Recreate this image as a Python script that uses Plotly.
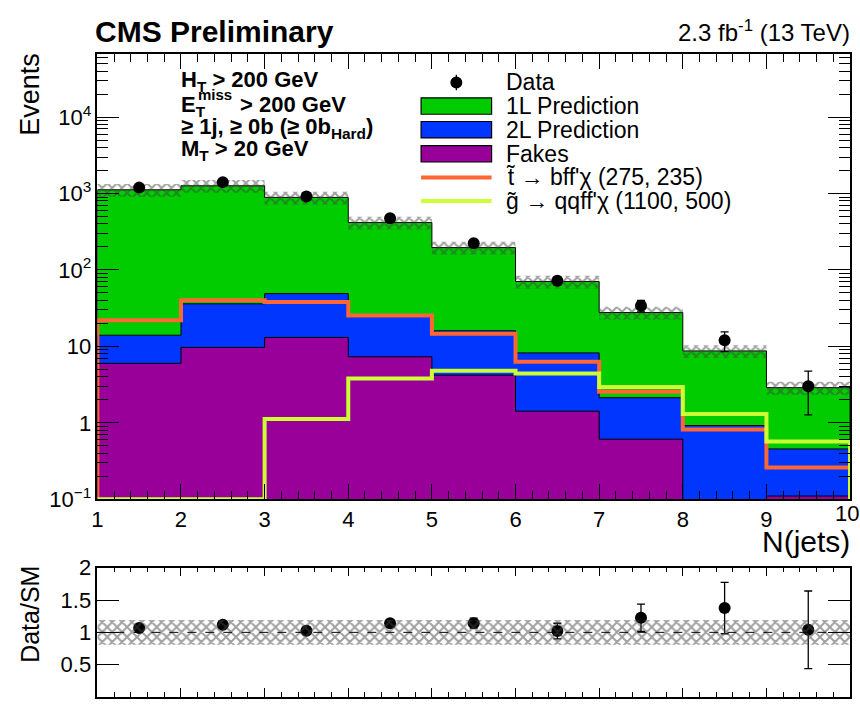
import numpy as np
import plotly.graph_objects as go

# ------------------------------------------------------------------ data
bin_edges = [1, 2, 3, 4, 5, 6, 7, 8, 9, 10]
data_counts = [1195, 1410, 912, 476, 224, 72, 34, 12, 3]
pred_1L = [1106, 1227, 841, 392.5, 180, 62.3, 25.6, 7.8, 2.43]
pred_2L = [8.0, 26.3, 35.9, 17.2, 11.8, 6.8, 1.52, 0.92, 0.345]
pred_fakes = [6.0, 9.7, 13.1, 7.3, 4.2, 1.42, 0.61, 0.0, 0.11]
sig_stop = [22.0, 40.0, 38.0, 25.4, 14.6, 6.3, 2.54, 0.82, 0.26]
sig_gluino = [0.0, 0.0, 1.12, 3.8, 4.8, 4.4, 2.94, 1.3, 0.57]
syst_rel_unc = [0.19, 0.19, 0.19, 0.19, 0.19, 0.19, 0.19, 0.19, 0.19]

x_tick_vals = [1, 2, 3, 4, 5, 6, 7, 8, 9, 10]
x_tick_text = ["1", "2", "3", "4", "5", "6", "7", "8", "9", "10"]
y_tick_vals = [0.1, 1, 10, 100, 1000, 10000]
y_tick_text = ["10<sup>\u22121</sup>", "1", "10", "10<sup>2</sup>", "10<sup>3</sup>", "10<sup>4</sup>"]
ratio_tick_vals = [0.5, 1, 1.5, 2]
ratio_tick_text = ["0.5", "1", "1.5", "2"]

legend_labels = ["Data", "1L Prediction", "2L Prediction", "Fakes",
                 "t\u0303 \u2192 bff'\u03c7 (275, 235)",
                 "g\u0303 \u2192 qqff'\u03c7 (1100, 500)"]
cut_lines = ["<b>H<sub>T</sub> > 200 GeV</b>",
             "<b>\u2265 1j, \u2265 0b (\u2265 0b<sub>Hard</sub>)</b>",
             "<b>M<sub>T</sub> > 20 GeV</b>"]

# ------------------------------------------------------------------ style
W, H = 860, 710
FONT = "Liberation Sans, Arial, Helvetica, sans-serif"
C_1L = "#00CC00"
C_2L = "#0036FF"
C_FAKE = "#990099"
C_STOP = "#FF6633"
C_GLU = "#CCFF33"
HATCH = "#444444"

Y_LOG_MIN, Y_LOG_MAX = -1, 4.82
AXIS_FLOOR = 10 ** Y_LOG_MIN
FILL_FLOOR = 1e-3


def px(x):
    return x / W


def py(y):
    return 1 - y / H


edges = np.array(bin_edges, dtype=float)
centers = 0.5 * (edges[:-1] + edges[1:])
d = np.array(data_counts, dtype=float)
f = np.array(pred_fakes)
l2 = np.array(pred_2L)
l1 = np.array(pred_1L)
cum_fake = f
cum_2l = f + l2
total = f + l2 + l1
unc = np.array(syst_rel_unc)


def step_polygon(vals, floor):
    xs, ys = [edges[0]], [floor]
    for i, v in enumerate(vals):
        v = max(v, floor)
        xs += [edges[i], edges[i + 1]]
        ys += [v, v]
    xs.append(edges[-1])
    ys.append(floor)
    return xs, ys


def band_rects(lo, hi):
    xs, ys = [], []
    for i in range(len(lo)):
        xs += [edges[i], edges[i + 1], edges[i + 1], edges[i], edges[i], None]
        ys += [lo[i], lo[i], hi[i], hi[i], lo[i], None]
    return xs, ys


hatch = dict(shape="x", fgcolor=HATCH, bgcolor="rgba(0,0,0,0)", size=7, solidity=0.5)

fig = go.Figure()

# stacked backgrounds (cumulative filled step histograms)
for vals, col, name in [(total, C_1L, "1L Prediction"),
                        (cum_2l, C_2L, "2L Prediction"),
                        (cum_fake, C_FAKE, "Fakes")]:
    xs, ys = step_polygon(vals, FILL_FLOOR)
    fig.add_trace(go.Scatter(x=xs, y=ys, mode="lines", fill="toself",
                             fillcolor=col, line=dict(color="black", width=1),
                             name=name, showlegend=False, hoverinfo="skip",
                             xaxis="x", yaxis="y"))

# uncertainty band on the SM total
bx, by = band_rects(total * (1 - unc), total * (1 + unc))
fig.add_trace(go.Scatter(x=bx, y=by, mode="lines", fill="toself",
                         fillcolor="rgba(0,0,0,0)", line=dict(width=0),
                         fillpattern=hatch,
                         showlegend=False, hoverinfo="skip", xaxis="x", yaxis="y"))

# signal overlays
for vals, col, name in [(sig_stop, C_STOP, legend_labels[4]),
                        (sig_gluino, C_GLU, legend_labels[5])]:
    xs, ys = step_polygon(vals, AXIS_FLOOR)
    fig.add_trace(go.Scatter(x=xs, y=ys, mode="lines",
                             line=dict(color=col, width=4),
                             name=name, showlegend=False, xaxis="x", yaxis="y"))

# data
err = np.sqrt(d)
fig.add_trace(go.Scatter(x=centers, y=d, mode="markers",
                         marker=dict(color="black", size=12),
                         error_y=dict(type="data", array=err, arrayminus=err,
                                      color="black", thickness=1.3, width=4),
                         name="Data", showlegend=False, xaxis="x", yaxis="y"))

# ratio panel
ratio = d / total
ratio_err = np.sqrt(d) / total
fig.add_trace(go.Scatter(x=centers, y=ratio, mode="markers",
                         marker=dict(color="black", size=12),
                         error_y=dict(type="data", array=ratio_err, arrayminus=ratio_err,
                                      color="black", thickness=1.3, width=4),
                         showlegend=False, xaxis="x2", yaxis="y2"))
rx, ry = band_rects(1 - unc, 1 + unc)
fig.add_trace(go.Scatter(x=rx, y=ry, mode="lines", fill="toself",
                         fillcolor="rgba(0,0,0,0)", line=dict(width=0),
                         fillpattern=hatch,
                         showlegend=False, hoverinfo="skip", xaxis="x2", yaxis="y2"))

# ------------------------------------------------------------------ axes
minor_log = [k * 10 ** e for e in range(-1, 5) for k in range(2, 10)]
common = dict(showline=True, linecolor="black", linewidth=1.5, mirror="allticks",
              showgrid=False, zeroline=False, ticks="inside", tickcolor="black",
              tickfont=dict(family=FONT, size=22, color="black"))

# the last x tick label sits on the page edge: it is drawn as an annotation
main_x_ticktext = x_tick_text[:-1] + [""]

fig.update_layout(
    width=W, height=H, margin=dict(l=0, r=0, t=0, b=0),
    paper_bgcolor="white", plot_bgcolor="white", showlegend=False,
    font=dict(family=FONT, color="black"),
    xaxis=dict(domain=[px(92), px(850)], range=[1, 10], anchor="y",
               tickmode="array", tickvals=x_tick_vals, ticktext=main_x_ticktext,
               ticklen=15, tickwidth=1.2,
               minor=dict(ticks="inside", ticklen=8, dtick=0.2, tick0=1,
                          tickcolor="black", tickwidth=1.1, showgrid=False),
               **common),
    yaxis=dict(domain=[py(505), py(44)], type="log", range=[Y_LOG_MIN, Y_LOG_MAX], anchor="x",
               tickmode="array", tickvals=y_tick_vals, ticktext=y_tick_text,
               ticklen=22, tickwidth=1.2,
               minor=dict(ticks="inside", ticklen=11, tickmode="array", tickvals=minor_log,
                          tickcolor="black", tickwidth=1.1, showgrid=False),
               **common),
    xaxis2=dict(domain=[px(92), px(850)], range=[1, 10], anchor="y2",
                tickmode="array", tickvals=x_tick_vals, showticklabels=False,
                ticklen=9, tickwidth=1.2,
                minor=dict(ticks="inside", ticklen=5, dtick=0.2, tick0=1,
                           tickcolor="black", tickwidth=1.1, showgrid=False),
                **common),
    yaxis2=dict(domain=[0, py(576)], range=[0, 2], anchor="x2",
                tickmode="array", tickvals=ratio_tick_vals, ticktext=ratio_tick_text,
                ticklen=22, tickwidth=1.2, **common),
)

shapes = []
# dashed unity line in ratio panel
shapes.append(dict(type="line", xref="x2", yref="y2", x0=1, x1=10, y0=1, y1=1,
                   line=dict(color="black", width=1, dash="dash")))

# legend (drawn by hand to get ROOT-style wide boxes)
rows = [73, 97.5, 122, 147, 171.5, 196]
bx0, bx1 = 418, 489
shapes.append(dict(type="circle", xref="paper", yref="paper",
                   xsizemode="pixel", ysizemode="pixel",
                   xanchor=px(453.5), yanchor=py(rows[0]),
                   x0=-6, x1=6, y0=-6, y1=6,
                   fillcolor="black", line=dict(color="black", width=0)))
shapes.append(dict(type="line", xref="paper", yref="paper",
                   x0=px(453.5), x1=px(453.5), y0=py(rows[0] - 8), y1=py(rows[0] + 8),
                   line=dict(color="black", width=1.3)))
for r, col in zip(rows[1:4], [C_1L, C_2L, C_FAKE]):
    shapes.append(dict(type="rect", xref="paper", yref="paper",
                       x0=px(bx0), x1=px(bx1), y0=py(r + 8.5), y1=py(r - 8.5),
                       fillcolor=col, line=dict(color="black", width=1.2)))
for r, col in zip(rows[4:], [C_STOP, C_GLU]):
    shapes.append(dict(type="line", xref="paper", yref="paper",
                       x0=px(bx0), x1=px(bx1), y0=py(r), y1=py(r),
                       line=dict(color=col, width=4)))
fig.update_layout(shapes=shapes)

ann = []


def text(x, y, s, size, xanchor="left", yanchor="middle", angle=0):
    ann.append(dict(x=px(x), y=py(y), xref="paper", yref="paper", text=s,
                    showarrow=False, xanchor=xanchor, yanchor=yanchor, textangle=angle,
                    font=dict(family=FONT, size=size, color="black")))


for r, lab in zip(rows, legend_labels):
    text(501, r, lab, 23)

# last x tick label at the right page edge
text(861, 520, x_tick_text[-1], 22, xanchor="right")

# header
text(88, 20, "<b>CMS Preliminary</b>", 30)
text(852, 20, "2.3 fb<sup>-1</sup> (13 TeV)", 24, xanchor="right")

# selection text
text(174, 72, cut_lines[0], 22)
text(174, 97, "<b>E<sub>T</sub></b>", 22)
text(191, 86, "<b>miss</b>", 15)
text(234, 96, "<b>> 200 GeV</b>", 22)
text(174, 120, cut_lines[1], 22)
text(174, 143, cut_lines[2], 22)

# axis titles
text(24, 85, "Events", 27, xanchor="center", angle=-90)
text(852, 549, "N(jets)", 30, xanchor="right")
text(24, 624, "Data/SM", 25, xanchor="center", angle=-90)

fig.update_layout(annotations=ann)

fig.write_html("out.html")
